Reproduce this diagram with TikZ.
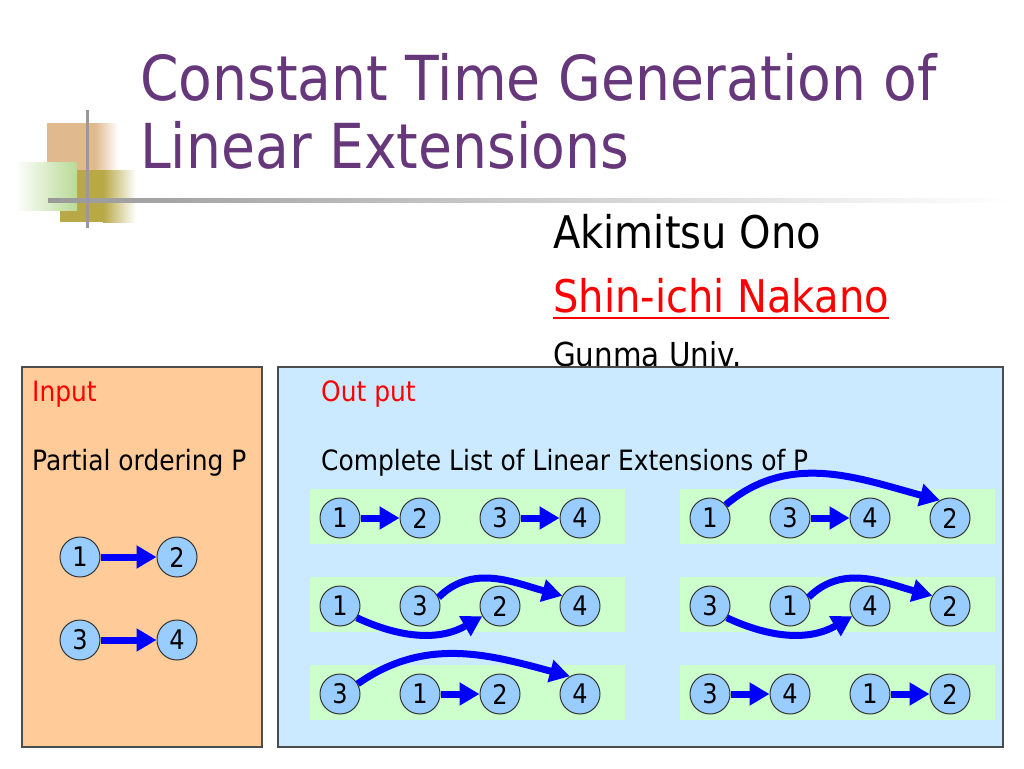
\documentclass[tikz,border=0pt]{standalone}
\usepackage{fontspec}
\setmainfont{DejaVu Sans}[FakeStretch=0.89]
\usetikzlibrary{arrows.meta,calc}
\definecolor{titlepurple}{RGB}{102,55,122}
\definecolor{inbg}{RGB}{255,204,153}
\definecolor{outbg}{RGB}{204,234,255}
\definecolor{bandgreen}{RGB}{204,255,204}
\definecolor{vtxblue}{RGB}{153,204,255}
\definecolor{decotan}{RGB}{224,186,142}
\definecolor{decoolive}{RGB}{184,168,70}
\definecolor{decogreen}{RGB}{184,218,150}
\tikzset{
  vtx/.style={circle,draw=black!80,line width=1pt,fill=vtxblue,minimum size=40pt,
    inner sep=0pt,font=\fontsize{27}{27}\selectfont},
  rel/.style={draw=blue,line width=7pt,-{Triangle[length=20pt,width=22pt]}},
  panel/.style={draw=black!70,line width=1.2pt},
  band/.style={fill=bandgreen},
  txt/.style={anchor=base west,inner sep=0pt},
  boxtext/.style={txt,font=\fontsize{28}{28}\selectfont},
}
\begin{document}
\begin{tikzpicture}[x=1pt,y=-1pt]
  \useasboundingbox (0,0) rectangle (1024,768);
  \fill[white] (0,0) rectangle (1024,768);
  % corner ornament
  \fill[decotan] (47,123) rectangle (96,180);
  \shade[left color=decotan,right color=white] (95,123) rectangle (118,180);
  \fill[decoolive] (60,170) rectangle (104,222);
  \shade[left color=decoolive,right color=white] (103,170) rectangle (136,222);
  \shade[left color=white,right color=decogreen] (15,162) rectangle (77,210);
  \shade[left color=black!40,right color=white] (48,198) rectangle (1010,202);
  \fill[black!40] (85.5,110) rectangle (88.5,228);
  % title and authors
  \node[txt,text=titlepurple,font=\fontsize{62}{62}\selectfont] (title1) at (140,100) {Constant Time Generation of};
  \node[txt,text=titlepurple,font=\fontsize{62}{62}\selectfont] (title2) at (140,168) {Linear Extensions};
  \node[txt,font=\fontsize{45}{45}\selectfont] (ono) at (553,248) {Akimitsu Ono};
  \node[txt,text=red,font=\fontsize{45}{45}\selectfont] (nakano) at (553,312) {Shin-ichi Nakano};
  \draw[red,line width=2pt] ($(nakano.base west)+(0,6)$) -- ($(nakano.base east)+(0,6)$);
  \node[txt,font=\fontsize{33}{33}\selectfont] (univ) at (553,366) {Gunma Univ.};
  % input panel
  \draw[panel,fill=inbg] (22,367) rectangle (262,747);
  \node[boxtext,text=red] (inlabel) at (32,401) {Input};
  \node[boxtext] (intext) at (32,470) {Partial ordering P};
  \node[vtx] (p1) at (80,557) {1};
  \node[vtx] (p2) at (177,557) {2};
  \node[vtx] (p3) at (80,640) {3};
  \node[vtx] (p4) at (177,640) {4};
  \draw[rel] (p1) -- (p2);
  \draw[rel] (p3) -- (p4);
  % output panel
  \draw[panel,fill=outbg] (278,367) rectangle (1003,747);
  \node[boxtext,text=red] (outlabel) at (321,401) {Out put};
  \node[boxtext] (outtext) at (321,470) {Complete List of Linear Extensions of P};
  \foreach \b/\x/\y/\order in {A1/340/518/{1,2,3,4}, B1/710/518/{1,3,4,2},
      A2/340/606/{1,3,2,4}, B2/710/606/{3,1,4,2},
      A3/340/694/{3,1,2,4}, B3/710/694/{3,4,1,2}} {
    \fill[band] (\x-30,\y-29) rectangle (\x+285,\y+26);
    \foreach \v [count=\i] in \order
      \node[vtx] (\b-\v) at ({\x+80*(\i-1)},\y) {\v};
  }
  \draw[rel] (A1-1) -- (A1-2);
  \draw[rel] (A1-3) -- (A1-4);
  \draw[rel] (B1-1.40) to[out=40,in=165] (B1-2.120);
  \draw[rel] (B1-3) -- (B1-4);
  \draw[rel] (A2-1.-35) to[out=-25,in=-150] (A2-2.-150);
  \draw[rel] (A2-3.25) to[out=45,in=165] (A2-4.150);
  \draw[rel] (B2-3.-35) to[out=-25,in=-150] (B2-4.-150);
  \draw[rel] (B2-1.25) to[out=45,in=165] (B2-2.150);
  \draw[rel] (A3-3.30) to[out=35,in=165] (A3-4.120);
  \draw[rel] (A3-1) -- (A3-2);
  \draw[rel] (B3-3) -- (B3-4);
  \draw[rel] (B3-1) -- (B3-2);
\end{tikzpicture}
\end{document}
